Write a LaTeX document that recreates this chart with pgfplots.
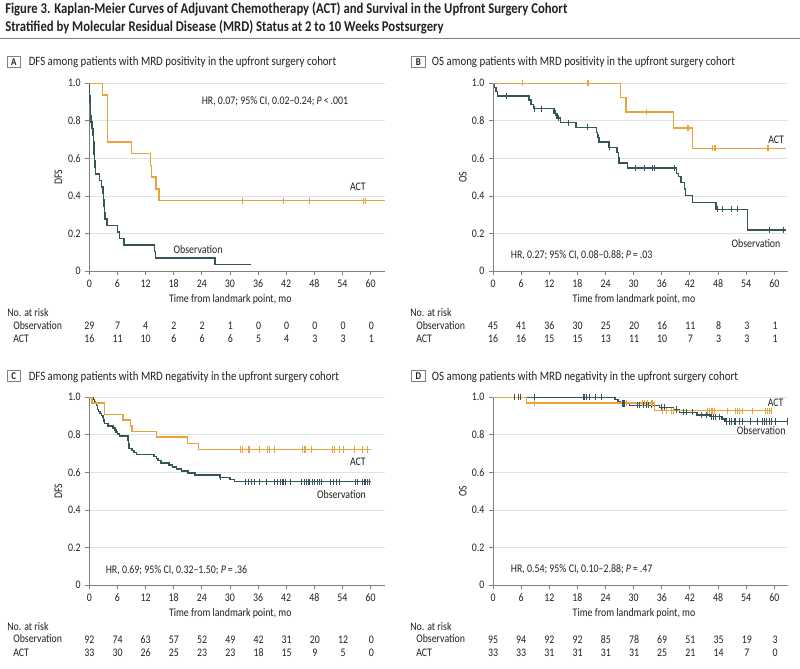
\documentclass[border=0pt]{standalone}
\usepackage{fontspec}
\setmainfont{Carlito}[FakeStretch=0.85]
\usepackage{pgfplots}
\pgfplotsset{compat=1.18}
\definecolor{obs}{HTML}{36555A}
\definecolor{act}{HTML}{E8A33D}
\definecolor{txt}{HTML}{222222}
\definecolor{axg}{HTML}{7F7F7F}
\definecolor{grd}{HTML}{E2E2E2}
\newcommand{\tf}{\fontsize{8.7}{10}\selectfont}
\newcommand{\pf}{\fontsize{9.6}{11}\selectfont}
\pgfplotsset{km/.style={
  scale only axis, width=221.5pt, height=140.8pt,
  xmin=0,xmax=63,ymin=0,ymax=1,
  axis lines=left, axis line style={-, draw=axg, line width=0.6pt},
  xtick={0,6,...,60}, xticklabels={0,6,12,18,24,30,36,42,48,54,60},
  ytick={0,0.2,0.4,0.6,0.8,1}, yticklabels={0,0.2,0.4,0.6,0.8,1.0},
  tick align=outside, major tick length=3pt,
  tick style={draw=axg, line width=0.6pt},
  ymajorgrids, grid style={draw=grd, line width=0.6pt},
  ticklabel style={font=\tf, text=txt},
  clip=false,
  anchor=south west,
},
curveO/.style={const plot, obs, line width=1.1pt, no marks},
curveA/.style={const plot, act, line width=1.1pt, no marks},
censO/.style={only marks, obs, mark=|, mark size=2.3pt, mark options={line width=0.6pt}},
censA/.style={only marks, act, mark=|, mark size=2.3pt, mark options={line width=0.6pt}},
}
\newcommand{\riskrow}[3]{\foreach \v [count=\i from 0] in {#3} {\node[font=\tf,text=txt,anchor=base] at ({#1+\i*28.2},#2) {\v};}}
\begin{document}
\begin{tikzpicture}
\begin{scope}[x=0.75pt,y=-0.75pt]
\path[use as bounding box, fill=white] (0,0) rectangle (800,668);
\node[anchor=base west, font=\fontsize{11.2}{13}\selectfont\bfseries, text=txt, inner sep=0pt] at (5,13.5) {Figure 3. Kaplan-Meier Curves of Adjuvant Chemotherapy (ACT) and Survival in the Upfront Surgery Cohort};
\node[anchor=base west, font=\fontsize{11.2}{13}\selectfont\bfseries, text=txt, inner sep=0pt] at (5,31) {Stratified by Molecular Residual Disease (MRD) Status at 2 to 10 Weeks Postsurgery};
\draw[draw=axg, line width=1pt] (0,38.5) -- (800,38.5);
% panel headers
\foreach \bx/\by/\lab in {7/56/A, 411.7/56/B, 7/370.3/C, 411.7/370.3/D}{
  \draw[draw=axg, line width=0.6pt] (\bx,\by) rectangle ++(13.5,11.5);
  \node[font=\fontsize{7.8}{9}\selectfont\bfseries, text=txt] at ({\bx+6.75},{\by+5.9}) {\lab};
}
\node[anchor=base west, font=\pf, text=txt, inner sep=0pt] at (28.5,65.7) {DFS among patients with MRD positivity in the upfront surgery cohort};
\node[anchor=base west, font=\pf, text=txt, inner sep=0pt] at (431.7,65.7) {OS among patients with MRD positivity in the upfront surgery cohort};
\node[anchor=base west, font=\pf, text=txt, inner sep=0pt] at (28.5,380) {DFS among patients with MRD negativity in the upfront surgery cohort};
\node[anchor=base west, font=\pf, text=txt, inner sep=0pt] at (431.7,380) {OS among patients with MRD negativity in the upfront surgery cohort};
% y labels
\node[rotate=90, font=\tf, text=txt] at (58.3,177) {DFS};
\node[rotate=90, font=\tf, text=txt] at (463,177) {OS};
\node[rotate=90, font=\tf, text=txt] at (58.3,491) {DFS};
\node[rotate=90, font=\tf, text=txt] at (463,491) {OS};
% x labels
\node[anchor=base, font=\tf, text=txt] at (230.3,302) {Time from landmark point, mo};
\node[anchor=base, font=\tf, text=txt] at (634,302) {Time from landmark point, mo};
\node[anchor=base, font=\tf, text=txt] at (230.3,616) {Time from landmark point, mo};
\node[anchor=base, font=\tf, text=txt] at (634,616) {Time from landmark point, mo};
% risk tables
\foreach \lx/\ly in {7/316.5, 410/316.5, 7/630, 410/630}{
  \node[anchor=base west, font=\tf, text=txt, inner sep=0pt] at (\lx,\ly) {No. at risk};
  \node[anchor=base west, font=\tf, text=txt, inner sep=0pt] at ({\lx+6},{\ly+12.5}) {Observation};
  \node[anchor=base west, font=\tf, text=txt, inner sep=0pt] at ({\lx+6},{\ly+26}) {ACT};
}
\riskrow{89.3}{329}{29,7,4,2,2,1,0,0,0,0,0}
\riskrow{89.3}{342.5}{16,11,10,6,6,6,5,4,3,3,1}
\riskrow{493}{329}{45,41,36,30,25,20,16,11,8,3,1}
\riskrow{493}{342.5}{16,16,15,15,13,11,10,7,3,3,1}
\riskrow{89.3}{643.5}{92,74,63,57,52,49,42,31,20,12,0}
\riskrow{89.3}{656.5}{33,30,26,25,23,23,18,15,9,5,0}
\riskrow{493}{643.5}{95,94,92,92,85,78,69,51,35,19,3}
\riskrow{493}{656.5}{33,33,31,31,31,31,25,21,14,7,0}
\end{scope}

% ---------- Panel A ----------
\begin{axis}[km, at={(89.3*0.75pt,-271*0.75pt)}]
\addplot[curveO] coordinates {(0,1)(0.05,0.931)(0.1,0.897)(0.2,0.862)(0.3,0.828)(0.35,0.793)(0.6,0.759)(0.8,0.724)(0.9,0.690)(1.0,0.655)(1.05,0.621)(1.1,0.586)(1.2,0.552)(1.35,0.517)(2.2,0.483)(2.6,0.448)(2.9,0.414)(3.0,0.379)(3.1,0.345)(3.2,0.310)(3.35,0.276)(3.8,0.241)(6.0,0.207)(6.4,0.172)(7.4,0.138)(13.9,0.103)(14.1,0.069)(26.8,0.0345)(34.5,0.0345)};
\addplot[curveA] coordinates {(0,1)(2.84,0.9375)(3.85,0.6875)(9.0,0.625)(13.0,0.5625)(13.3,0.5)(14.2,0.4375)(14.9,0.375)(63,0.375)};
\addplot[censA] coordinates {(32.6,0.375)(41.4,0.375)(46.9,0.375)(58.5,0.375)(58.8,0.375)};
\node[font=\tf, text=txt] at (axis cs:57.3,0.446) {ACT};
\node[font=\tf, text=txt] at (axis cs:23.2,0.117) {Observation};
\node[font=\tf, text=txt] at (axis cs:39.6,0.902) {HR, 0.07; 95\% CI, 0.02--0.24; \textit{P}\,<\,.001};
\end{axis}

% ---------- Panel B ----------
\begin{axis}[km, at={(493*0.75pt,-271*0.75pt)}]
\addplot[curveO] coordinates {(0,1)(0.3,0.978)(0.6,0.956)(1.0,0.933)(7.7,0.911)(8.1,0.888)(8.6,0.865)(13.0,0.840)(13.7,0.815)(14.4,0.790)(17.7,0.765)(22.1,0.738)(22.3,0.711)(22.6,0.686)(24.7,0.659)(26.5,0.632)(26.8,0.604)(26.9,0.576)(28.7,0.548)(39.1,0.520)(39.6,0.503)(40.1,0.472)(40.8,0.437)(41.1,0.401)(42.6,0.365)(47.6,0.329)(54.3,0.219)(62.5,0.219)};
\addplot[censO] coordinates {(2.8,0.933)(8.9,0.865)(10.4,0.865)(13.4,0.840)(13.9,0.815)(16.0,0.790)(20.1,0.765)(22.45,0.711)(24.9,0.659)(30.3,0.548)(32.4,0.548)(33.9,0.548)(34.5,0.548)(38.8,0.548)(47.8,0.329)(49.0,0.329)(50.8,0.329)(52.1,0.329)(58.9,0.219)(61.9,0.219)};
\addplot[curveA] coordinates {(0,1)(27.2,0.923)(28.4,0.846)(38.5,0.762)(42.6,0.653)(62.5,0.653)};
\addplot[censA] coordinates {(6.3,1)(20.1,1)(20.3,1)(32.7,0.846)(41.4,0.762)(41.7,0.762)(46.9,0.653)(47.2,0.653)(47.5,0.653)(58.6,0.653)(58.8,0.653)};
\node[font=\tf, text=txt] at (axis cs:60.4,0.70) {ACT};
\node[font=\tf, text=txt] at (axis cs:56.1,0.147) {Observation};
\node[font=\tf, text=txt] at (axis cs:18.9,0.085) {HR, 0.27; 95\% CI, 0.08--0.88; \textit{P}\,=\,.03};
\end{axis}

% ---------- Panel C ----------
\begin{axis}[km, at={(89.3*0.75pt,-585*0.75pt)}]
\addplot[curveO] coordinates {(0,1)(0.85,0.989)(1.1,0.978)(1.35,0.967)(1.55,0.957)(1.7,0.946)(1.8,0.935)(2.0,0.924)(2.3,0.913)(2.6,0.902)(2.9,0.891)(3.0,0.880)(3.1,0.870)(3.2,0.859)(4.0,0.848)(5.1,0.837)(5.5,0.826)(5.7,0.815)(6.0,0.804)(6.4,0.793)(8.3,0.772)(8.4,0.750)(8.5,0.728)(9.1,0.717)(9.5,0.706)(10.1,0.695)(13.8,0.684)(14.3,0.673)(14.7,0.662)(15.3,0.651)(17.0,0.640)(17.8,0.629)(18.6,0.618)(19.7,0.607)(21.1,0.596)(22.5,0.585)(27.8,0.574)(30.0,0.562)(31.0,0.551)(60,0.551)};
\addplot[censO] coordinates {(28.0,0.574)(33.2,0.551)(33.9,0.551)(34.6,0.551)(35.2,0.551)(36.2,0.551)(37.8,0.551)(39.5,0.551)(40.2,0.551)(40.8,0.551)(41.1,0.551)(41.5,0.551)(41.8,0.551)(42.9,0.551)(45.3,0.551)(45.8,0.551)(46.3,0.551)(46.7,0.551)(46.9,0.551)(47.5,0.551)(48.0,0.551)(48.6,0.551)(49.1,0.551)(49.6,0.551)(51.5,0.551)(52.1,0.551)(52.7,0.551)(53.4,0.551)(56.7,0.551)(57.2,0.551)(58.2,0.551)(58.7,0.551)(59.0,0.551)(59.3,0.551)(59.7,0.551)};
\addplot[curveA] coordinates {(0,1)(0.6,0.970)(3.2,0.909)(7.2,0.879)(8.8,0.848)(9.1,0.818)(14.3,0.788)(21.0,0.755)(23.3,0.722)(60,0.722)};
\addplot[censA] coordinates {(32.2,0.722)(32.6,0.722)(33.9,0.722)(34.2,0.722)(36.2,0.722)(38.0,0.722)(38.4,0.722)(39.4,0.722)(45.5,0.722)(45.9,0.722)(46.2,0.722)(47.4,0.722)(51.9,0.722)(52.2,0.722)(53.3,0.722)(54.1,0.722)(56.5,0.722)(58.3,0.722)(59.4,0.722)};
\node[font=\tf, text=txt] at (axis cs:57.3,0.658) {ACT};
\node[font=\tf, text=txt] at (axis cs:53.8,0.48) {Observation};
\node[font=\tf, text=txt] at (axis cs:18.6,0.08) {HR, 0.69; 95\% CI, 0.32--1.50; \textit{P}\,=\,.36};
\end{axis}

% ---------- Panel D ----------
\begin{axis}[km, at={(493*0.75pt,-585*0.75pt)}]
\addplot[curveO] coordinates {(0,1)(26.0,0.989)(26.7,0.978)(27.2,0.967)(29.1,0.957)(35.5,0.946)(38.5,0.935)(39.8,0.920)(43.5,0.906)(46.3,0.897)(48.8,0.884)(49.5,0.871)(62.8,0.871)};
\addplot[censO] coordinates {(4.5,1)(5.5,1)(5.9,1)(8.9,1)(19.2,1)(19.6,1)(20.0,1)(20.5,1)(21.8,1)(23.1,1)(27.6,0.967)(27.8,0.967)(28.1,0.967)(30.8,0.957)(31.3,0.957)(32.0,0.957)(32.7,0.957)(33.1,0.957)(33.8,0.957)(36.0,0.946)(36.6,0.946)(39.1,0.935)(40.6,0.920)(41.2,0.920)(42.6,0.920)(44.4,0.906)(45.5,0.906)(46.6,0.897)(47.1,0.897)(47.4,0.897)(48.3,0.897)(49.7,0.871)(50.4,0.871)(50.9,0.871)(51.4,0.871)(51.8,0.871)(52.5,0.871)(53.2,0.871)(55.0,0.871)(56.4,0.871)(57.4,0.871)(58.0,0.871)(58.4,0.871)(58.9,0.871)(59.4,0.871)(60.3,0.871)(62.8,0.871)};
\addplot[curveA] coordinates {(0,1)(7.2,0.970)(34.5,0.929)(59.6,0.929)};
\addplot[censA] coordinates {(8.9,0.970)(28.4,0.970)(31.8,0.970)(32.3,0.970)(33.0,0.970)(33.7,0.970)(34.1,0.970)(36.1,0.929)(37.0,0.929)(38.1,0.929)(38.5,0.929)(45.8,0.929)(46.2,0.929)(46.5,0.929)(46.9,0.929)(47.2,0.929)(50.1,0.929)(51.8,0.929)(52.2,0.929)(52.5,0.929)(53.3,0.929)(55.4,0.929)(58.2,0.929)(58.6,0.929)(58.9,0.929)(59.3,0.929)};
\node[font=\tf, text=txt] at (axis cs:60.3,0.97) {ACT};
\node[font=\tf, text=txt] at (axis cs:57.2,0.825) {Observation};
\node[font=\tf, text=txt] at (axis cs:18.9,0.083) {HR, 0.54; 95\% CI, 0.10--2.88; \textit{P}\,=\,.47};
\end{axis}
\end{tikzpicture}
\end{document}
